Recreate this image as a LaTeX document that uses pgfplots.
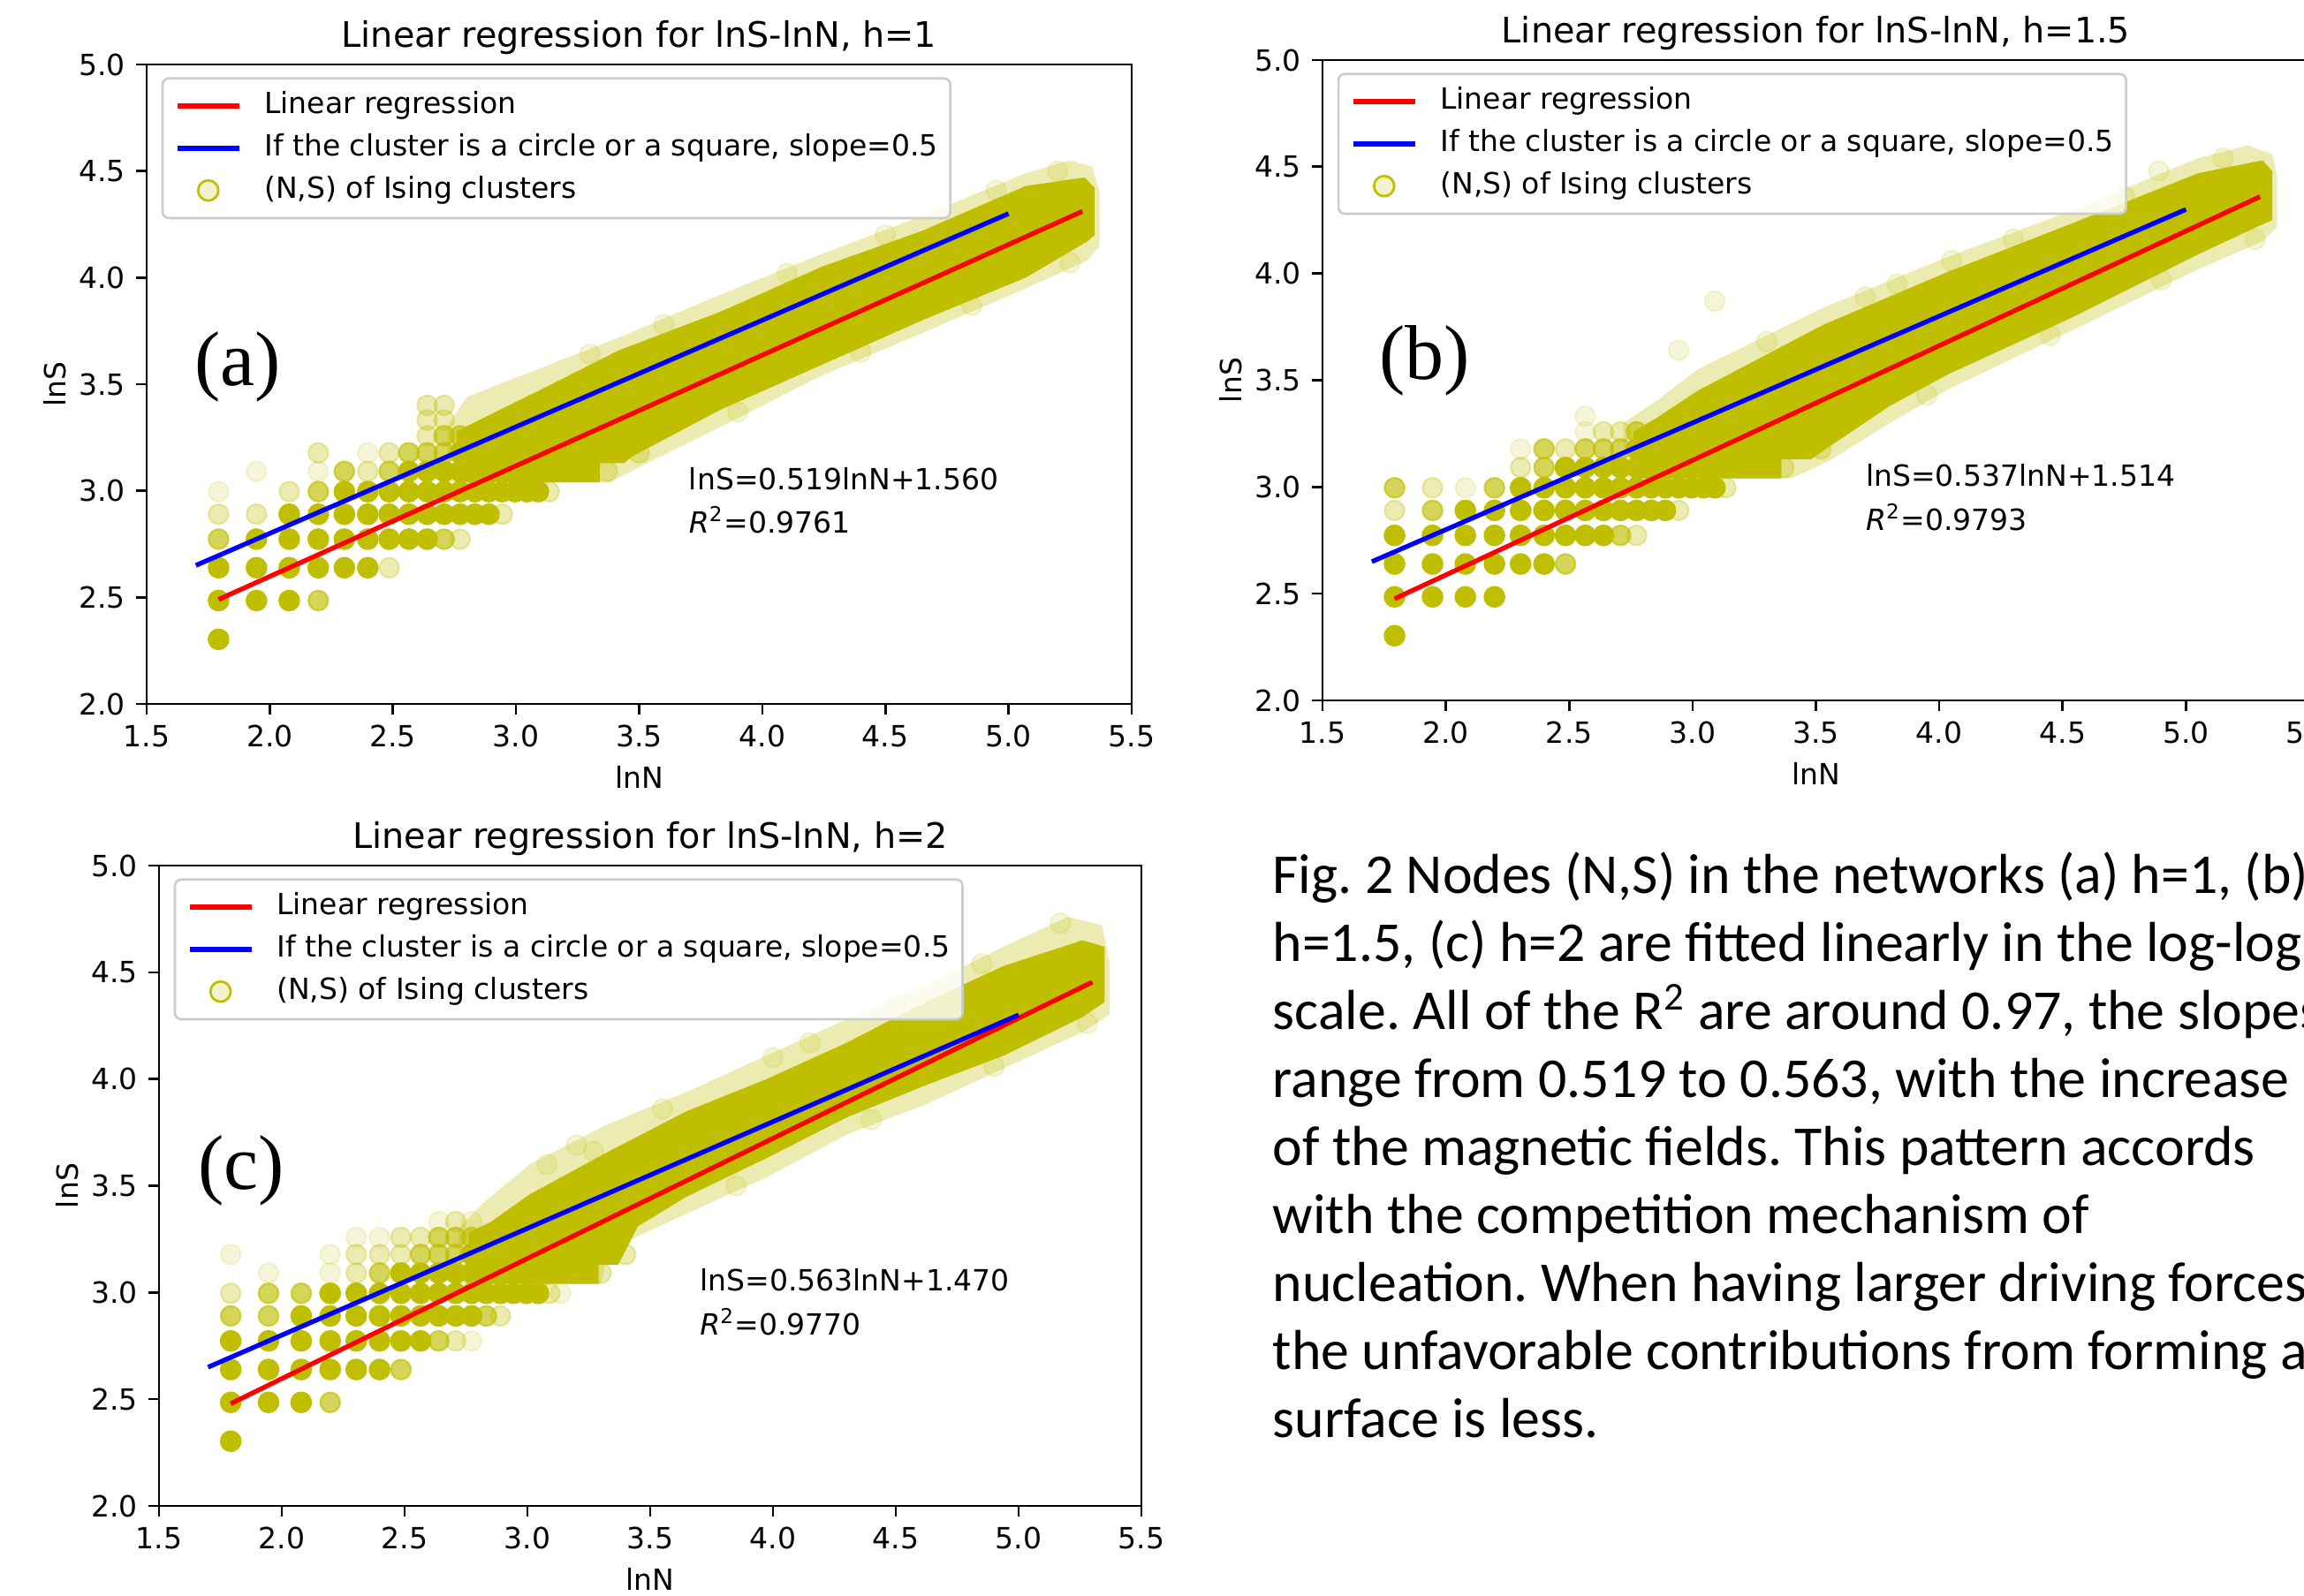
\documentclass[border=0pt]{standalone}
\usepackage{fontspec}
\setmainfont{DejaVu Sans}
\newfontfamily\capfont{Carlito}
\newfontfamily\serifL{Liberation Serif}
\usepackage{pgfplots}
\pgfplotsset{compat=1.18}
\frenchspacing
\definecolor{yc}{rgb}{0.75,0.75,0}
\definecolor{legendgray}{rgb}{0.8,0.8,0.8}
\newcommand\fs{\fontsize{9.4}{11.3}\selectfont}
\pgfplotsset{
  pts/.style={only marks, mark=*, mark size=3.2pt, forget plot,
    mark options={draw=yc, fill=yc, line width=0.6pt, fill opacity=#1, draw opacity=#1}},
  band/.style={fill=yc, draw=none, fill opacity=#1, forget plot},
  panel/.style={
    scale only axis, clip marker paths=true,
    xmin=1.5, xmax=5.5, ymin=2, ymax=5,
    xtick={1.5,2,2.5,3,3.5,4,4.5,5,5.5},
    ytick={2,2.5,3,3.5,4,4.5,5},
    /pgf/number format/assume math mode=true,
    xticklabel style={/pgf/number format/.cd, fixed, fixed zerofill, precision=1},
    yticklabel style={/pgf/number format/.cd, fixed, fixed zerofill, precision=1},
    tick label style={font=\fs},
    tick align=outside, tick pos=left,
    major tick length=0.116cm,
    tick style={black, line width=0.75pt},
    axis line style={line width=0.75pt},
    xlabel={lnN}, ylabel={lnS},
    label style={font=\fs, inner sep=0pt},
    xlabel style={at={(axis description cs:0.5,-0.1146)}, anchor=center},
    ylabel style={at={(axis description cs:-0.0933,0.5)}, anchor=center},
    title style={font=\fontsize{11.3}{13.6}\selectfont, at={(axis description cs:0.5,1)}, anchor=base, yshift=-0.5pt, inner sep=0pt},
    legend style={at={(axis description cs:0.015,0.98)}, anchor=north west,
      draw=legendgray, line width=0.75pt, rounded corners=2pt,
      fill=white, fill opacity=0.8, draw opacity=1, text opacity=1,
      font=\fs, inner xsep=4pt, inner ysep=4.4pt, row sep=4.6pt,
      cells={anchor=west},
      nodes={inner sep=0pt, text height=7pt, text depth=2pt},
      /tikz/every odd column/.append style={column sep=0.26cm}},
    legend cell align=left,
    legend image code/.code={\draw[#1, line width=1.5pt, rounded corners=0pt] (0cm,0cm) -- (0.7cm,0cm);},
  }
}
\newcommand\legendimages{%
  \addlegendimage{red}
  \addlegendimage{blue}
  \addlegendimage{legend image code/.code={\fill[yc, fill opacity=0.2] (0.35cm,0cm) circle (0.115cm);\draw[yc, draw opacity=0.2, line width=0.4pt] (0.35cm,0cm) circle (0.105cm);}}
}
\newcommand\legendtexts{\legend{Linear regression,{If the cluster is a circle or a square, slope=0.5},{(N,S) of Ising clusters}}}
\begin{document}
\begin{tikzpicture}
\path[use as bounding box] (0,0) rectangle (26.08,18.07);
\clip (0,0) rectangle (26.08,18.07);

% ---------------- (a) h=1 ----------------
\begin{axis}[panel, at={(1.66cm,10.10cm)}, anchor=south west, width=11.15cm, height=7.24cm,
  title={Linear regression for lnS-lnN, h=1}]
\legendimages
\addplot[band=0.3] coordinates {(2.72,3.04) (3.38,3.04) (3.55,3.14) (3.83,3.30) (4.24,3.54) (4.65,3.74) (5.07,3.95) (5.32,4.08) (5.37,4.15) (5.37,4.40) (5.34,4.52) (5.25,4.55) (5.07,4.49) (4.65,4.29) (4.24,4.11) (3.83,3.92) (3.42,3.72) (3.11,3.58) (2.80,3.44) (2.72,3.30)} -- cycle;
\addplot[band=1] coordinates {(2.76,3.04) (3.34,3.04) (3.34,3.13) (3.44,3.13) (3.47,3.16) (3.83,3.38) (4.24,3.59) (4.65,3.80) (5.07,4.00) (5.32,4.17) (5.35,4.20) (5.35,4.42) (5.31,4.47) (5.07,4.43) (4.65,4.22) (4.24,4.05) (3.83,3.84) (3.42,3.66) (3.11,3.48) (2.90,3.36) (2.76,3.28)} -- cycle;
\addplot[pts=0.15] coordinates {(1.792,2.996) (1.946,3.091) (2.197,3.091) (2.398,3.178) (3.30,3.64) (3.60,3.78) (4.10,4.02) (4.50,4.20) (4.95,4.41) (5.20,4.50) (3.90,3.37) (4.40,3.65) (4.85,3.87) (5.25,4.07)};
\addplot[pts=0.3] coordinates {(1.792,2.890) (1.946,2.890) (2.773,2.773) (2.944,2.890) (2.079,2.996) (2.485,2.639) (3.135,2.996) (2.398,3.091) (2.197,3.178) (2.485,3.178) (2.639,3.258) (2.639,3.332) (2.708,3.332) (2.639,3.401) (2.708,3.401) (3.37,3.091) (3.50,3.178)};
\addplot[pts=0.65] coordinates {(1.792,2.773) (2.197,2.485) (2.708,2.773) (2.197,2.996) (2.303,3.091) (2.485,3.091) (2.565,3.178) (2.639,3.178) (2.708,3.178) (2.708,3.258) (2.773,3.258)};
\addplot[pts=1] coordinates {(1.792,2.303) (1.792,2.485) (1.792,2.639) (1.946,2.485) (1.946,2.639) (1.946,2.773) (2.079,2.485) (2.079,2.639) (2.079,2.773) (2.079,2.890) (2.197,2.639) (2.197,2.773) (2.197,2.890) (2.303,2.639) (2.303,2.773) (2.303,2.890) (2.303,2.996) (2.398,2.639) (2.398,2.773) (2.398,2.890) (2.398,2.996) (2.485,2.773) (2.485,2.890) (2.485,2.996) (2.565,2.773) (2.565,2.890) (2.565,2.996) (2.565,3.091) (2.639,2.773) (2.639,2.890) (2.639,2.996) (2.639,3.091) (2.708,2.890) (2.708,2.996) (2.708,3.091) (2.773,2.890) (2.773,2.996) (2.773,3.091) (2.773,3.178) (2.833,2.890) (2.833,2.996) (2.890,2.890) (2.890,2.996) (2.944,2.996) (2.996,2.996) (3.045,2.996) (3.091,2.996)};
\addplot[red, line width=1.5pt, forget plot] coordinates {(1.792,2.490) (5.30,4.311)};
\addplot[blue, line width=1.5pt, forget plot] coordinates {(1.70,2.65) (5.00,4.30)};
\node[anchor=base west, font=\fs, inner sep=0pt] at (axis cs:3.70,3.005) {lnS=0.519lnN+1.560};
\node[anchor=base west, font=\fs, inner sep=0pt] at (axis cs:3.70,2.80) {{\itshape R}\textsuperscript{2}=0.9761};
\node[font=\serifL\fontsize{25}{30}\selectfont, inner sep=0pt] at (axis cs:1.87,3.58) {(a)};
\legendtexts
\end{axis}

% ---------------- (b) h=1.5 ----------------
\begin{axis}[panel, at={(14.97cm,10.14cm)}, anchor=south west, width=11.17cm, height=7.25cm,
  title={Linear regression for lnS-lnN, h=1.5}]
\legendimages
\addplot[band=0.3] coordinates {(2.72,3.04) (3.40,3.04) (3.55,3.12) (3.80,3.30) (4.04,3.46) (4.55,3.74) (5.05,4.02) (5.31,4.15) (5.37,4.22) (5.37,4.45) (5.35,4.56) (5.25,4.60) (5.05,4.54) (4.55,4.30) (4.04,4.08) (3.53,3.84) (3.02,3.55) (2.85,3.40) (2.72,3.30)} -- cycle;
\addplot[band=1] coordinates {(2.76,3.04) (3.36,3.04) (3.36,3.13) (3.48,3.13) (3.53,3.17) (3.80,3.38) (4.04,3.53) (4.55,3.80) (5.05,4.09) (5.31,4.23) (5.35,4.25) (5.35,4.48) (5.31,4.53) (5.05,4.47) (4.55,4.24) (4.04,4.01) (3.53,3.76) (3.02,3.45) (2.85,3.32) (2.76,3.26)} -- cycle;
\addplot[pts=0.15] coordinates {(2.079,2.996) (2.303,3.178) (2.565,3.258) (2.565,3.332) (2.944,3.64) (3.09,3.87) (3.83,3.95) (4.05,4.06) (4.89,4.48) (3.30,3.68) (3.70,3.89) (4.30,4.16) (4.75,4.36) (5.15,4.54) (3.95,3.43) (4.45,3.71) (4.90,3.97) (5.28,4.16)};
\addplot[pts=0.3] coordinates {(1.792,2.890) (1.946,2.996) (2.773,2.773) (2.944,2.890) (3.135,2.996) (2.303,3.091) (2.485,3.178) (2.708,3.258) (2.639,3.258) (3.37,3.091) (3.52,3.178)};
\addplot[pts=0.65] coordinates {(2.708,2.773) (1.946,2.890) (1.792,2.996) (2.197,2.996) (2.398,3.091) (2.398,3.178) (2.485,2.639) (2.565,3.178) (2.639,3.178) (2.708,3.178) (2.773,3.258)};
\addplot[pts=1] coordinates {(1.792,2.303) (1.792,2.485) (1.792,2.639) (1.792,2.773) (1.946,2.485) (1.946,2.639) (1.946,2.773) (2.079,2.485) (2.079,2.639) (2.079,2.773) (2.079,2.890) (2.197,2.485) (2.197,2.639) (2.197,2.773) (2.197,2.890) (2.303,2.639) (2.303,2.773) (2.303,2.890) (2.303,2.996) (2.398,2.639) (2.398,2.773) (2.398,2.890) (2.398,2.996) (2.485,2.773) (2.485,2.890) (2.485,2.996) (2.485,3.091) (2.565,2.773) (2.565,2.890) (2.565,2.996) (2.565,3.091) (2.639,2.773) (2.639,2.890) (2.639,2.996) (2.639,3.091) (2.708,2.890) (2.708,2.996) (2.708,3.091) (2.773,2.890) (2.773,2.996) (2.773,3.091) (2.773,3.178) (2.833,2.890) (2.833,2.996) (2.890,2.890) (2.890,2.996) (2.944,2.996) (2.996,2.996) (3.045,2.996) (3.091,2.996)};
\addplot[red, line width=1.5pt, forget plot] coordinates {(1.792,2.476) (5.30,4.360)};
\addplot[blue, line width=1.5pt, forget plot] coordinates {(1.70,2.65) (5.00,4.30)};
\node[anchor=base west, font=\fs, inner sep=0pt] at (axis cs:3.70,3.002) {lnS=0.537lnN+1.514};
\node[anchor=base west, font=\fs, inner sep=0pt] at (axis cs:3.70,2.795) {{\itshape R}\textsuperscript{2}=0.9793};
\node[font=\serifL\fontsize{25}{30}\selectfont, inner sep=0pt] at (axis cs:1.915,3.59) {(b)};
\legendtexts
\end{axis}

% ---------------- (c) h=2 ----------------
\begin{axis}[panel, at={(1.80cm,1.02cm)}, anchor=south west, width=11.12cm, height=7.25cm,
  title={Linear regression for lnS-lnN, h=2}]
\legendimages
\addplot[band=0.3] coordinates {(2.72,3.04) (3.30,3.04) (3.33,3.20) (3.65,3.37) (3.975,3.54) (4.30,3.74) (4.62,3.88) (4.94,4.05) (5.26,4.22) (5.37,4.30) (5.37,4.55) (5.34,4.72) (5.20,4.76) (4.94,4.62) (4.62,4.44) (4.30,4.28) (3.975,4.11) (3.65,3.94) (3.33,3.79) (3.01,3.60) (2.82,3.42) (2.72,3.30)} -- cycle;
\addplot[band=1] coordinates {(2.76,3.04) (3.29,3.04) (3.29,3.13) (3.37,3.13) (3.45,3.31) (3.65,3.45) (3.975,3.63) (4.30,3.82) (4.62,3.97) (4.94,4.11) (5.26,4.29) (5.35,4.36) (5.35,4.62) (5.26,4.65) (4.94,4.53) (4.62,4.36) (4.30,4.17) (3.975,4.00) (3.65,3.85) (3.33,3.66) (3.01,3.46) (2.85,3.33) (2.76,3.28)} -- cycle;
\addplot[pts=0.15] coordinates {(1.792,3.178) (1.946,3.091) (2.197,3.091) (2.197,3.178) (2.773,2.773) (3.135,2.996) (2.303,3.258) (2.398,3.258) (2.639,3.332) (2.773,3.332) (3.08,3.60) (3.27,3.66) (4.00,4.10) (5.17,4.73) (3.20,3.69) (3.55,3.86) (4.15,4.17) (4.50,4.35) (4.85,4.54) (3.85,3.50) (4.40,3.81) (4.90,4.06) (5.28,4.26)};
\addplot[pts=0.3] coordinates {(1.792,2.996) (2.708,2.773) (2.890,2.890) (3.091,2.996) (2.303,3.091) (2.303,3.178) (2.398,3.178) (2.485,3.178) (2.485,3.258) (2.565,3.258) (2.708,3.332) (3.30,3.091) (3.40,3.178)};
\addplot[pts=0.65] coordinates {(1.792,2.890) (1.946,2.890) (2.079,2.996) (1.946,2.996) (2.197,2.485) (2.485,2.639) (2.639,2.773) (2.833,2.890) (2.398,3.091) (2.565,3.178) (2.639,3.178) (2.708,3.178) (2.639,3.258) (2.708,3.258) (2.773,3.258)};
\addplot[pts=1] coordinates {(1.792,2.303) (1.792,2.485) (1.792,2.639) (1.792,2.773) (1.946,2.485) (1.946,2.639) (1.946,2.773) (2.079,2.485) (2.079,2.639) (2.079,2.773) (2.079,2.890) (2.197,2.639) (2.197,2.773) (2.197,2.890) (2.197,2.996) (2.303,2.639) (2.303,2.773) (2.303,2.890) (2.303,2.996) (2.398,2.639) (2.398,2.773) (2.398,2.890) (2.398,2.996) (2.485,2.773) (2.485,2.890) (2.485,2.996) (2.485,3.091) (2.565,2.773) (2.565,2.890) (2.565,2.996) (2.565,3.091) (2.639,2.890) (2.639,2.996) (2.639,3.091) (2.708,2.890) (2.708,2.996) (2.708,3.091) (2.773,2.890) (2.773,2.996) (2.773,3.091) (2.773,3.178) (2.833,2.996) (2.890,2.996) (2.944,2.996) (2.996,2.996) (3.045,2.996)};
\addplot[red, line width=1.5pt, forget plot] coordinates {(1.792,2.479) (5.30,4.454)};
\addplot[blue, line width=1.5pt, forget plot] coordinates {(1.70,2.65) (5.00,4.30)};
\node[anchor=base west, font=\fs, inner sep=0pt] at (axis cs:3.70,3.006) {lnS=0.563lnN+1.470};
\node[anchor=base west, font=\fs, inner sep=0pt] at (axis cs:3.70,2.80) {{\itshape R}\textsuperscript{2}=0.9770};
\node[font=\serifL\fontsize{25}{30}\selectfont, inner sep=0pt] at (axis cs:1.835,3.57) {(c)};
\legendtexts
\end{axis}

% ---------------- caption ----------------
\begin{scope}[every node/.style={anchor=base west, inner sep=0pt, font=\capfont\fontsize{18.15}{21.8}\selectfont}]
\node at (14.40,7.950) {Fig. 2 Nodes (N,S) in the networks (a) h=1, (b)};
\node at (14.40,7.181) {h=1.5, (c) h=2 are fitted linearly in the log-log};
\node at (14.40,6.412) {scale. All of the R\textsuperscript{2} are around 0.97, the slopes};
\node at (14.40,5.643) {range from 0.519 to 0.563, with the increase};
\node at (14.40,4.874) {of the magnetic fields. This pattern accords};
\node at (14.40,4.105) {with the competition mechanism of};
\node at (14.40,3.336) {nucleation. When having larger driving forces,};
\node at (14.40,2.567) {the unfavorable contributions from forming a};
\node at (14.40,1.798) {surface is less.};
\end{scope}
\end{tikzpicture}
\end{document}
